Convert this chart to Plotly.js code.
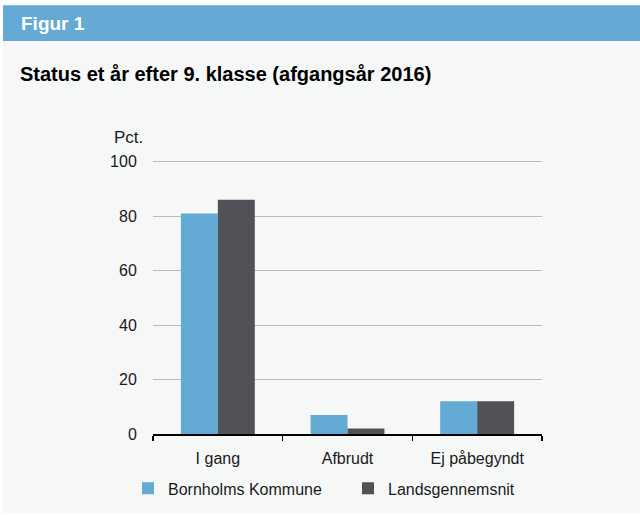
<!DOCTYPE html>
<html><head><meta charset="utf-8">
<script src="https://cdn.plot.ly/plotly-3.0.1.min.js"></script>
<style>html,body{margin:0;padding:0;background:#fff}</style>
</head><body><div id="chart" style="width:640px;height:517px"></div>
<script>
const categories = ["I gang", "Afbrudt", "Ej påbegyndt"];
const bornholm = [81, 7, 12];
const landsgennemsnit = [86, 2, 12];
const seriesNames = ["Bornholms Kommune", "Landsgennemsnit"];
const yTicks = [0, 20, 40, 60, 80, 100];

const W = 640, H = 517, L = 153, R = 98, T = 159.25, B = 80;
const pw = W - L - R, ph = H - T - B;
const px = x => (x - L) / pw;
const py = y => (H - B - y) / ph;

const font = "Liberation Sans, Arial, sans-serif";
const traces = [
  {type: "bar", x: categories, y: bornholm, name: seriesNames[0], marker: {color: "#63aad5"}},
  {type: "bar", x: categories, y: landsgennemsnit, name: seriesNames[1], marker: {color: "#505257"}}
];
const layout = {
  width: W, height: H,
  margin: {l: L, r: R, t: T, b: B},
  paper_bgcolor: "#ffffff", plot_bgcolor: "rgba(0,0,0,0)",
  font: {family: font, size: 16, color: "#1a1a1a"},
  barmode: "group", bargap: 0.43, bargroupgap: 0,
  showlegend: true,
  legend: {orientation: "h", x: px(128), xanchor: "left", y: py(492), yanchor: "middle",
           font: {size: 16, color: "#1a1a1a"}, entrywidth: 175, bgcolor: "rgba(0,0,0,0)"},
  xaxis: {type: "category", showline: true, linecolor: "#000", linewidth: 1.5,
          ticks: "outside", tickson: "boundaries", ticklen: 5, tickcolor: "#000", tickwidth: 1.5,
          showgrid: false, tickfont: {size: 16}, ticklabelstandoff: 9},
  yaxis: {range: [0, 101], tickvals: yTicks, showgrid: true, gridcolor: "#b9bbbb", gridwidth: 1,
          zeroline: false, showline: false, ticks: "outside", ticklen: 12, tickcolor: "rgba(0,0,0,0)", tickfont: {size: 16}},
  shapes: [
    {type: "rect", xref: "paper", yref: "paper", x0: px(3), x1: px(640), y0: py(517), y1: py(40),
     fillcolor: "#f6f8f8", line: {width: 0}, layer: "below"},
    {type: "rect", xref: "paper", yref: "paper", x0: px(3), x1: px(640), y0: py(40), y1: py(4),
     fillcolor: "#64aad4", line: {width: 0}, layer: "below"}
  ],
  annotations: [
    {text: "<b>Figur 1</b>", xref: "paper", yref: "paper", x: px(19), y: py(22), xanchor: "left", yanchor: "middle",
     showarrow: false, font: {size: 19, color: "#ffffff", family: font}},
    {text: "<b>Status et år efter 9. klasse (afgangsår 2016)</b>", xref: "paper", yref: "paper", x: px(18), y: py(73),
     xanchor: "left", yanchor: "middle", showarrow: false, font: {size: 20, color: "#000", family: font}},
    {text: "Pct.", xref: "paper", yref: "paper", x: px(145), y: py(138), xanchor: "right", yanchor: "middle",
     showarrow: false, font: {size: 17, color: "#1a1a1a", family: font}}
  ]
};
Plotly.newPlot("chart", traces, layout, {displayModeBar: false, staticPlot: true});
</script></body></html>
